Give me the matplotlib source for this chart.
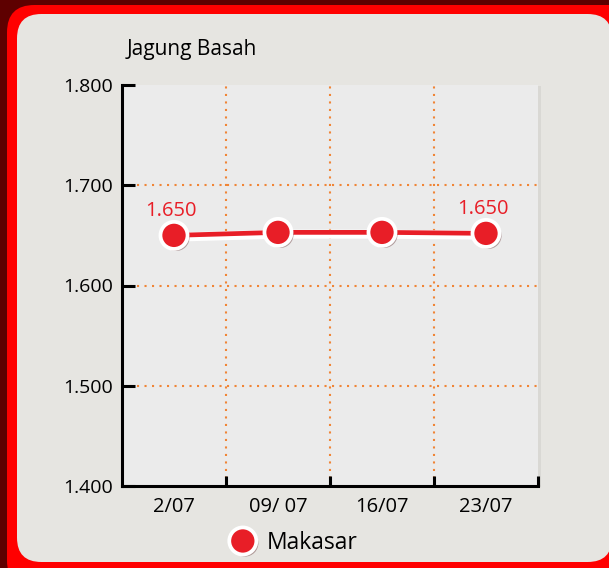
import matplotlib.pyplot as plt
import matplotlib.patheffects as pe
from matplotlib.patches import FancyBboxPatch
from matplotlib.lines import Line2D

dates = ["2/07", "09/ 07", "16/07", "23/07"]
prices = [1650, 1653, 1653, 1652]
point_labels = ["1.650", "", "", "1.650"]
series_name = "Makasar"
title = "Jagung Basah"
y_ticks = [1400, 1500, 1600, 1700, 1800]

red = "#e81e27"
grid_orange = "#f08536"
panel_bg = "#e6e5e1"
plot_bg = "#ebebeb"

plt.rcParams["font.family"] = ["Open Sans", "DejaVu Sans"]

fig = plt.figure(figsize=(6.09, 5.68), dpi=100)
fig.patch.set_facecolor("#5e0000")

# rounded red frame and light panel
W, H = 609, 568
frame = FancyBboxPatch((7 / W, -20 / H), 640 / W, 583 / H,
                       boxstyle="round,pad=0,rounding_size=0.045",
                       transform=fig.transFigure, facecolor="#ff0000",
                       edgecolor="none", mutation_aspect=W / H, zorder=-3)
panel = FancyBboxPatch((17 / W, 6 / H), 595 / W, 548 / H,
                       boxstyle="round,pad=0,rounding_size=0.04",
                       transform=fig.transFigure, facecolor=panel_bg,
                       edgecolor="none", mutation_aspect=W / H, zorder=-2)
fig.patches.extend([frame, panel])

ax = fig.add_axes([122 / W, 1 - 486 / H, 416 / W, 401 / H])
ax.set_facecolor(plot_bg)
ax.patch.set_path_effects([pe.SimplePatchShadow(offset=(2, -1), alpha=0.08), pe.Normal()])

x = [i + 0.5 for i in range(len(dates))]

# grid (dotted orange)
dot = (0, (1, 2.6))
for b in range(1, len(dates)):
    ax.axvline(b, color=grid_orange, lw=1.5, ls=dot, zorder=1)
for t in y_ticks[1:-1]:
    ax.axhline(t, color=grid_orange, lw=1.5, ls=dot, zorder=1)

ax.plot(x, prices, color=red, lw=3.4, solid_capstyle="butt", zorder=3,
        path_effects=[pe.Stroke(linewidth=6.5, foreground="white", offset=(0, -1.3)),
                      pe.Normal()])
marker_style = dict(ls="none", marker="o", ms=19.5, mfc=red, mec="white", mew=2.7,
                    path_effects=[pe.SimplePatchShadow(offset=(1.5, -1.5), alpha=0.35),
                                  pe.Normal()])
ax.plot(x, prices, zorder=4, label=series_name, **marker_style)

for xi, yi, lab in zip(x, prices, point_labels):
    if lab:
        ax.annotate(lab, (xi, yi), xytext=(-2, 14), textcoords="offset points",
                    ha="center", va="baseline", color=red, fontsize=14.5)

ax.set_xlim(0, len(dates))
ax.set_ylim(y_ticks[0], y_ticks[-1])
ax.set_xticks(x)
ax.set_xticklabels(dates)
ax.set_xticks(range(1, len(dates) + 1), minor=True)
ax.set_yticks(y_ticks)
ax.set_yticklabels([f"{t:,}".replace(",", ".") for t in y_ticks])

ax.tick_params(axis="x", which="major", length=0, pad=8, labelsize=14.5)
ax.tick_params(axis="x", which="minor", direction="in", length=7, width=2.2, color="black")
ax.tick_params(axis="y", direction="in", length=9, width=2.2, pad=6.5, labelsize=14)

for s in ["top", "right"]:
    ax.spines[s].set_visible(False)
for s in ["left", "bottom"]:
    ax.spines[s].set_linewidth(2.2)

fig.text(127 / W, 1 - 50 / H, title, ha="left", va="center", fontsize=15)

leg_handle = Line2D([], [], **marker_style)
fig.legend([leg_handle], [series_name], loc="center left",
           bbox_to_anchor=(205 / W, 1 - 543 / H), frameon=False, fontsize=16.5,
           handletextpad=0.3, handlelength=1.5)

fig.savefig("out.png", dpi=100, facecolor=fig.get_facecolor())
